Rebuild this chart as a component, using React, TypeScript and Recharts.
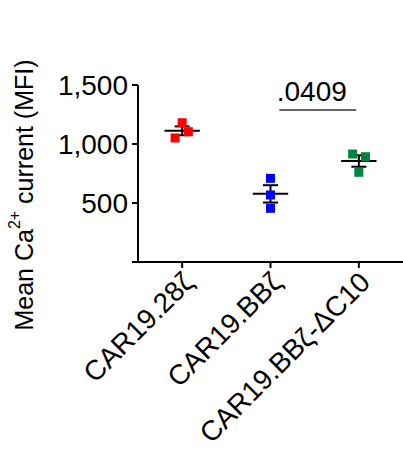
import React from 'react';
import {
    ScatterChart,
    Scatter,
    XAxis,
    YAxis,
    ReferenceLine,
    Label,
} from 'recharts';

const GROUPS = ['CAR19.28ζ', 'CAR19.BBζ', 'CAR19.BBζ-ΔC10'];
const COLORS = ['#ff0000', '#0000ff', '#00843f'];

// replicate values per group
const RED_VALUES = [1180, 1104, 1051];
const BLUE_VALUES = [709, 568, 455];
const GREEN_VALUES = [915, 892, 760];
// small horizontal jitter so overlapping points stay visible
const RED_JITTER = [0, 0.07, -0.08];
const BLUE_JITTER = [0, 0, 0];
const GREEN_JITTER = [-0.07, 0.075, 0];

const Y_TICKS = [0, 500, 1000, 1500];
const P_VALUE = '.0409';
const SIG_Y = 1288;

const FONT = '"Liberation Sans", Arial, sans-serif';

const toPoints = (values: number[], jitter: number[], idx: number) =>
    values.map((v, i) => ({ x: idx + jitter[i], y: v }));

const stats = (values: number[]) => {
    const n = values.length;
    const mean = values.reduce((s, v) => s + v, 0) / n;
    const sd = Math.sqrt(values.reduce((s, v) => s + (v - mean) ** 2, 0) / (n - 1));
    return { mean, sem: sd / Math.sqrt(n) };
};

const SERIES = [
    toPoints(RED_VALUES, RED_JITTER, 0),
    toPoints(BLUE_VALUES, BLUE_JITTER, 1),
    toPoints(GREEN_VALUES, GREEN_JITTER, 2),
];
const STATS = [RED_VALUES, BLUE_VALUES, GREEN_VALUES].map(stats);

const Square = (props: any) => {
    const { cx, cy, fill } = props;
    return <rect x={cx - 4.5} y={cy - 4.5} width={9} height={9} fill={fill} />;
};

const XTick = (props: any) => {
    const { x, y, payload } = props;
    const tx = x + 13;
    const ty = y + 14;
    return (
        <text
            x={tx}
            y={ty}
            transform={`rotate(-45, ${tx}, ${ty})`}
            textAnchor="end"
            fontSize={28}
            fontFamily={FONT}
            fill="#000"
        >
            {GROUPS[payload.value]}
        </text>
    );
};

const YTick = (props: any) => {
    const { x, y, payload } = props;
    if (payload.value === 0) return null;
    return (
        <text x={x} y={y} dy="0.36em" textAnchor="end" fontSize={28} fontFamily={FONT} fill="#000">
            {payload.value.toLocaleString('en-US')}
        </text>
    );
};

const YLabel = (props: any) => {
    const { viewBox } = props;
    const cx = 24;
    const cy = viewBox.y + 110;
    return (
        <text
            x={cx}
            y={cy}
            transform={`rotate(-90, ${cx}, ${cy})`}
            textAnchor="middle"
            dominantBaseline="central"
            fontSize={25}
            fontFamily={FONT}
            fill="#000"
        >
            Mean Ca
            <tspan fontSize={16} dy={-10}>2+</tspan>
            <tspan dy={10}> current (MFI)</tspan>
        </text>
    );
};

export default function App() {
    const half = 0.2;
    const cap = 0.085;
    return (
        <div style={{ position: 'absolute', left: 0, top: 0, background: '#fff' }}>
            <ScatterChart width={403} height={456} margin={{ top: 85, right: 0, bottom: 0, left: 0 }}>
                <XAxis
                    type="number"
                    dataKey="x"
                    domain={[-0.5, 2.5]}
                    ticks={[0, 1, 2]}
                    tick={<XTick />}
                    tickSize={6}
                    height={194}
                    interval={0}
                    axisLine={{ stroke: '#000', strokeWidth: 2 }}
                    tickLine={{ stroke: '#000', strokeWidth: 2 }}
                    allowDataOverflow
                />
                <YAxis
                    type="number"
                    dataKey="y"
                    domain={[0, 1500]}
                    ticks={Y_TICKS}
                    width={138}
                    tickSize={6}
                    tickMargin={4}
                    tick={<YTick />}
                    axisLine={{ stroke: '#000', strokeWidth: 2 }}
                    tickLine={{ stroke: '#000', strokeWidth: 2 }}
                >
                    <Label content={<YLabel />} />
                </YAxis>
                {STATS.map((s, i) => (
                    <React.Fragment key={i}>
                        <ReferenceLine
                            segment={[{ x: i - half, y: s.mean }, { x: i + half, y: s.mean }]}
                            stroke="#000"
                            strokeWidth={2}
                        />
                        <ReferenceLine
                            segment={[{ x: i, y: s.mean - s.sem }, { x: i, y: s.mean + s.sem }]}
                            stroke="#000"
                            strokeWidth={2}
                        />
                        <ReferenceLine
                            segment={[{ x: i - cap, y: s.mean - s.sem }, { x: i + cap, y: s.mean - s.sem }]}
                            stroke="#000"
                            strokeWidth={2}
                        />
                        <ReferenceLine
                            segment={[{ x: i - cap, y: s.mean + s.sem }, { x: i + cap, y: s.mean + s.sem }]}
                            stroke="#000"
                            strokeWidth={2}
                        />
                    </React.Fragment>
                ))}
                {SERIES.map((pts, i) => (
                    <Scatter
                        key={GROUPS[i]}
                        data={pts}
                        fill={COLORS[i]}
                        shape={<Square />}
                        isAnimationActive={false}
                    />
                ))}
                <ReferenceLine
                    segment={[{ x: 1.1, y: SIG_Y }, { x: 1.97, y: SIG_Y }]}
                    stroke="#333"
                    strokeWidth={1.5}
                    label={{
                        value: P_VALUE,
                        position: 'top',
                        offset: 9,
                        dx: -6,
                        fontSize: 28,
                        fontFamily: FONT,
                        fill: '#000',
                    }}
                />
            </ScatterChart>
        </div>
    );
}
